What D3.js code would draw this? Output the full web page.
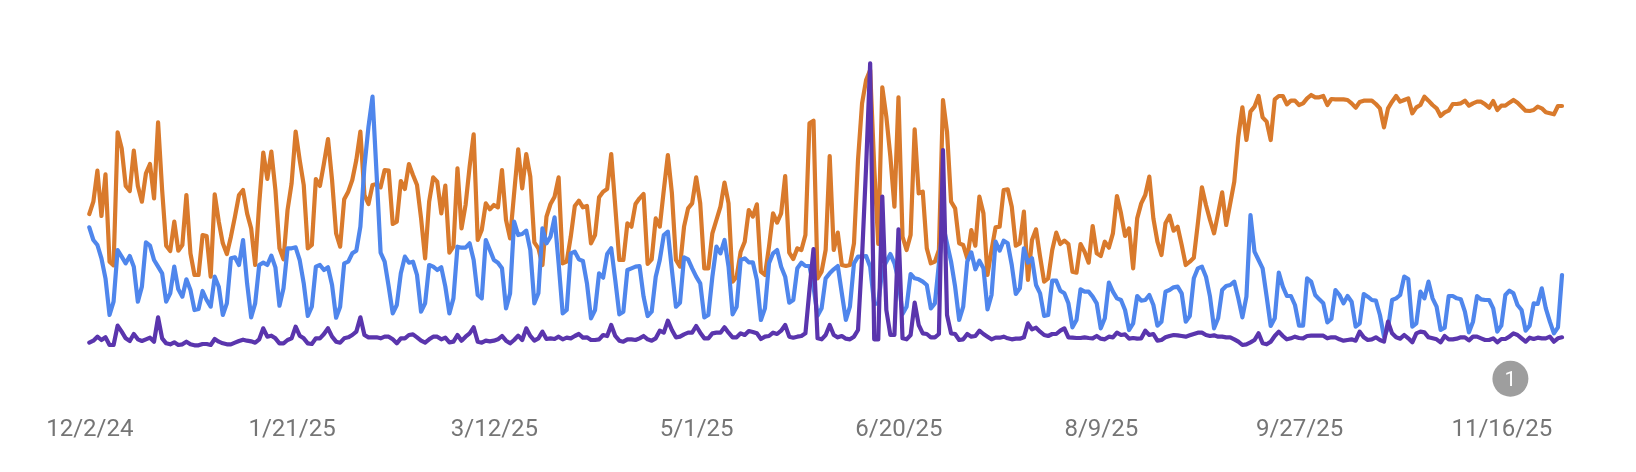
<!DOCTYPE html>
<html>
<head>
<meta charset="utf-8">
<style>html,body{margin:0;padding:0;background:#fff}svg{display:block;will-change:transform}</style>
<script src="https://cdnjs.cloudflare.com/ajax/libs/d3/7.8.5/d3.min.js"></script>
</head>
<body>
<svg id="c" width="1636" height="472"></svg>
<script>
const startDate = "2024-12-02";
const tickLabels = ["12/2/24","1/21/25","3/12/25","5/1/25","6/20/25","8/9/25","9/27/25","11/16/25"];
const tickDays = [0,50,100,150,200,250,299,349];
const annotationDay = 351;
const annotationText = "1";
const orangeValues = [
598,635,728,592,717,455,444,843,795,682,
667,788,682,635,720,748,645,873,670,503,
487,575,488,505,655,480,415,415,535,532,
410,657,575,510,478,530,590,655,670,600,
555,445,630,782,703,785,670,495,462,610,
690,845,760,685,495,505,703,682,750,823,
700,540,500,642,665,700,760,845,655,628,
685,688,678,730,728,568,575,697,673,748,
715,685,585,465,635,708,695,600,683,482,
500,735,555,625,740,837,520,550,630,612,
625,618,730,580,525,660,792,675,778,710,
513,495,445,590,628,650,708,450,455,530,
622,638,618,622,510,535,648,665,673,778,
620,460,460,570,560,628,645,658,448,462,
585,560,670,775,660,460,440,560,615,630,
708,630,435,435,540,580,620,692,630,395,
410,485,515,610,590,627,425,415,500,600,
572,600,712,482,463,495,490,535,870,878,
405,425,490,772,490,542,445,442,445,510,
760,930,1000,1030,740,508,978,890,770,620,
948,530,490,535,852,660,665,495,450,455,
490,940,845,635,615,510,505,465,550,503,
650,600,415,490,558,560,670,672,620,503,
510,605,400,520,552,470,395,405,490,542,
508,518,508,425,422,508,485,452,562,480,
472,515,497,540,652,600,532,555,435,585,
630,655,710,585,515,475,570,593,548,560,
505,445,455,467,570,678,625,580,540,600,
663,565,630,695,830,918,820,905,920,952,
888,875,820,942,952,952,927,938,938,925,
930,945,955,948,948,952,925,943,942,942,
942,940,930,917,934,938,938,938,928,915,
858,915,935,952,935,940,945,900,918,925,
950,938,925,915,892,903,908,928,928,930,
938,923,930,935,935,927,917,937,910,923,
923,932,940,932,920,908,907,910,920,915,
903,900,897,922,922];
const blueValues = [
558,520,505,465,405,295,335,490,470,450,
472,440,335,380,513,503,460,440,420,335,
360,440,372,350,402,370,310,313,367,340,
320,410,380,295,330,465,468,445,520,390,
288,330,445,452,445,473,438,323,375,495,
495,498,460,390,292,320,440,445,430,438,
385,287,320,450,455,480,488,560,740,860,
950,720,482,455,380,300,325,420,470,452,
455,415,305,330,445,440,430,438,380,300,
345,500,497,497,510,460,355,345,520,490,
460,452,435,315,360,575,535,538,548,490,
330,360,555,510,530,588,450,300,310,480,
485,462,457,390,285,310,420,407,478,495,
400,297,305,430,435,440,442,350,292,305,
410,460,535,545,430,320,332,468,462,435,
410,390,288,295,410,500,480,520,440,297,
320,460,465,453,453,400,280,315,450,480,
490,440,410,332,340,435,452,442,442,380,
293,315,405,420,432,442,360,280,320,450,
470,470,472,440,328,330,430,455,478,450,
400,298,320,418,405,402,395,385,315,330,
450,565,510,455,380,280,320,455,483,432,
458,435,312,355,515,488,518,510,445,358,
375,495,452,465,385,360,292,295,398,398,
368,360,330,258,280,372,365,365,350,330,
255,285,392,365,345,340,310,250,270,352,
338,340,355,325,263,275,365,370,378,380,
360,275,292,405,435,440,410,350,255,285,
370,382,385,395,345,288,350,595,485,460,
435,350,262,285,422,380,352,352,325,263,
263,405,395,355,342,330,273,283,370,355,
330,352,335,260,270,358,350,340,338,295,
230,255,340,345,355,410,403,260,270,365,
345,395,345,320,250,257,352,352,345,342,
305,243,275,352,342,340,340,315,245,263,
355,368,360,325,310,248,263,330,328,375,
315,275,240,258,415];
const purpleValues = [
212,218,230,220,228,205,205,263,245,225,
217,238,222,217,222,227,215,288,225,210,
207,213,205,207,215,207,204,204,208,208,
205,223,215,210,207,207,212,217,221,218,
216,212,222,255,230,233,225,210,210,220,
225,260,233,225,210,208,225,225,238,255,
230,215,212,225,228,235,245,288,235,228,
228,228,225,230,230,222,210,225,225,235,
237,228,218,212,222,230,230,222,227,213,
215,235,218,230,240,258,215,212,218,216,
218,222,232,218,210,220,233,220,255,232,
218,225,245,223,225,223,230,222,227,225,
232,238,227,228,220,220,222,235,232,265,
232,218,215,222,222,220,225,232,222,218,
225,248,242,278,250,228,230,237,242,242,
262,242,225,225,240,242,242,258,242,228,
228,240,235,247,244,240,223,230,232,242,
238,248,265,230,227,230,232,240,370,493,
225,222,235,265,235,228,232,224,222,230,
250,470,740,1050,222,222,650,310,235,235,
552,225,222,235,332,265,240,238,228,228,
238,790,295,240,238,220,222,238,230,232,
248,238,230,222,227,227,230,225,222,224,
224,228,270,252,257,245,235,232,238,238,
248,255,228,227,226,226,228,226,225,232,
224,222,230,228,242,235,237,224,226,224,
225,248,235,238,218,220,228,232,235,234,
232,230,234,238,242,242,235,232,234,230,
230,228,228,222,215,205,207,213,220,240,
210,207,215,232,245,232,222,225,230,226,
225,232,233,233,233,233,225,228,228,222,
218,220,222,218,245,228,220,222,228,220,
215,275,240,228,224,235,225,213,240,245,
243,228,225,222,213,232,222,222,224,228,
228,219,230,230,225,220,220,225,213,223,
223,230,240,235,225,215,227,223,227,225,
225,230,215,225,228];

const day = i => d3.timeDay.offset(d3.timeParse("%Y-%m-%d")(startDate), i);
const x = d3.scaleTime().domain([day(0), day(364)]).range([89.3, 1562]);
const y = d3.scaleLinear().domain([0, 1000]).range([413.33, 80]);
const svg = d3.select("#c");

const line = d3.line().x((d, i) => x(day(i))).y(d => y(d)).curve(d3.curveLinear);
[[orangeValues, "#d97a2c"], [blueValues, "#4f86ec"], [purpleValues, "#5a35ad"]].forEach(([vals, col]) => {
  svg.append("path").datum(vals).attr("d", line)
    .attr("fill", "none").attr("stroke", col).attr("stroke-width", 4.2)
    .attr("stroke-linejoin", "round").attr("stroke-linecap", "round");
});

const axis = d3.axisBottom(x).tickValues(tickDays.map(day)).tickSize(0).tickPadding(0)
  .tickFormat((d, i) => tickLabels[i]);
const g = svg.append("g").attr("transform", "translate(0,416)").call(axis);
g.select(".domain").remove();
g.selectAll("text").attr("font-family", "Roboto").attr("font-size", 24).attr("fill", "#757575")
  .attr("dy", null).attr("y", 20);

const ax = x(day(annotationDay)) + 1;
const ay = 378.7;
svg.append("circle").attr("cx", ax).attr("cy", ay).attr("r", 18).attr("fill", "#9e9e9e");
svg.append("text").attr("x", ax).attr("y", ay + 7.5).attr("text-anchor", "middle")
  .attr("font-family", "Roboto").attr("font-size", 21).attr("fill", "#fff").text(annotationText);
</script>
</body>
</html>
